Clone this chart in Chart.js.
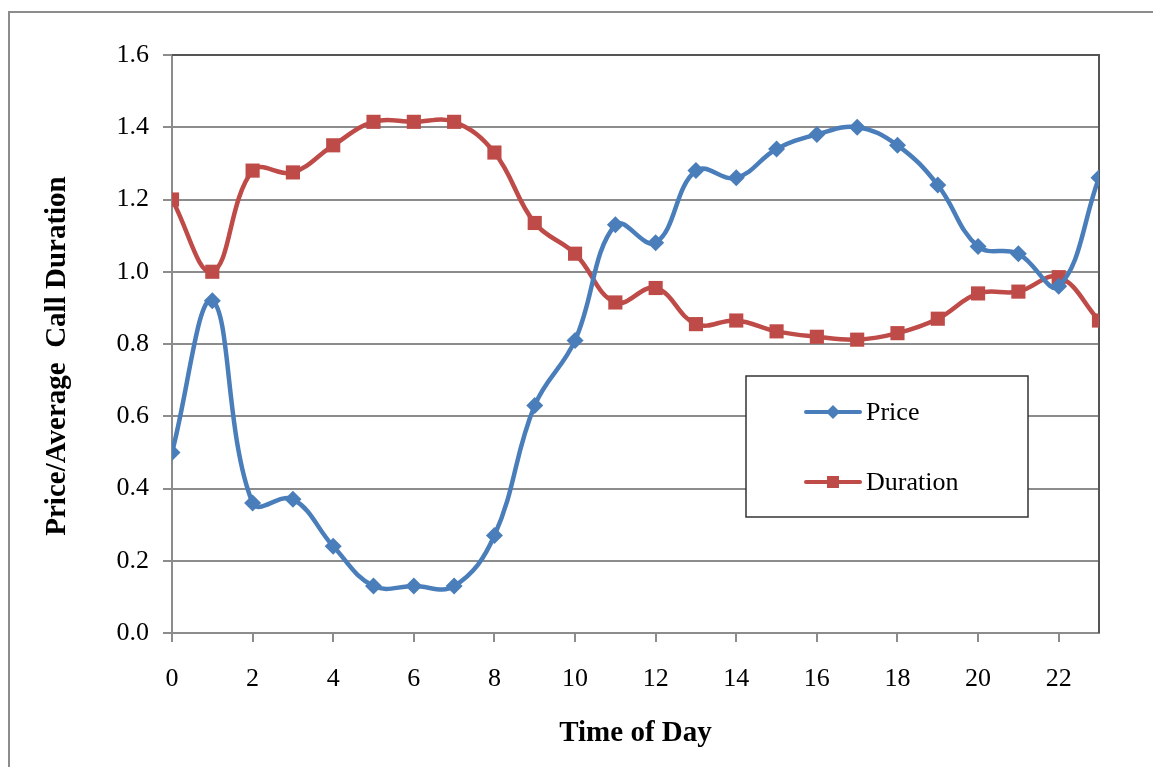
<!DOCTYPE html>
<html>
<head>
<meta charset="utf-8">
<script src="https://cdn.jsdelivr.net/npm/chart.js@4/dist/chart.umd.min.js"></script>
<style>
  html, body { margin: 0; padding: 0; background: #fff; }
  #wrap { width: 1153px; height: 767px; position: relative; }
</style>
</head>
<body>
<div id="wrap"><canvas id="grafico"></canvas></div>
<script>
// hora del dia
const horas = [0, 1, 2, 3, 4, 5, 6, 7, 8, 9, 10, 11, 12, 13, 14, 15, 16, 17, 18, 19, 20, 21, 22, 23];
const precio = [0.50, 0.92, 0.36, 0.37, 0.24, 0.13, 0.13, 0.13, 0.27, 0.63, 0.81, 1.13, 1.08, 1.28, 1.26, 1.34, 1.38, 1.40, 1.35, 1.24, 1.07, 1.05, 0.96, 1.26];
const duracion = [1.20, 1.00, 1.28, 1.275, 1.35, 1.415, 1.415, 1.415, 1.33, 1.135, 1.05, 0.915, 0.955, 0.855, 0.865, 0.835, 0.82, 0.812, 0.83, 0.87, 0.94, 0.945, 0.985, 0.865];
const etiquetas = ["Price", "Duration"];
const ticksX = [0, 2, 4, 6, 8, 10, 12, 14, 16, 18, 20, 22];
const tituloY = "Price/Average  Call Duration";

const AZUL = "#4A7EBB";
const ROJO = "#BE4B48";
const fuente = "'Liberation Serif', 'Times New Roman', serif";

function puntos(valores) {
    return horas.map((h, i) => ({ x: h, y: valores[i] }));
}

// marco exterior, bordes del area y titulo del eje y
const marco = {
    id: "marco",
    beforeDraw(chart) {
        const c = chart.ctx;
        c.save();
        c.strokeStyle = "#8c8c8c";
        c.lineWidth = 2;
        c.beginPath();
        c.moveTo(chart.width, 12);
        c.lineTo(9, 12);
        c.lineTo(9, chart.height);
        c.stroke();
        c.restore();
    },
    beforeDatasetsDraw(chart) {
        const a = chart.chartArea;
        const c = chart.ctx;
        c.save();
        c.strokeStyle = "#555";
        c.lineWidth = 2;
        c.beginPath();
        c.moveTo(a.left, a.top);
        c.lineTo(a.right, a.top);
        c.lineTo(a.right, a.bottom);
        c.stroke();
        // titulo vertical
        c.translate(58, a.top + (a.bottom - a.top) / 2 + 12);
        c.rotate(-Math.PI / 2);
        c.fillStyle = "#000";
        c.font = "bold 29px " + fuente;
        c.textAlign = "center";
        c.textBaseline = "middle";
        c.fillText(tituloY, 0, 0);
        c.restore();
    }
};

// leyenda dentro del grafico
const leyenda = {
    id: "leyenda",
    afterDraw(chart, args, opts) {
        const c = chart.ctx;
        c.save();
        c.fillStyle = "#fff";
        c.fillRect(opts.x, opts.y, opts.w, opts.h);
        c.strokeStyle = "#333";
        c.lineWidth = 1.5;
        c.strokeRect(opts.x, opts.y, opts.w, opts.h);
        chart.data.datasets.forEach((ds, i) => {
            const y = opts.y + 36 + i * 70;
            const x0 = opts.x + 60;
            c.strokeStyle = ds.borderColor;
            c.lineWidth = 4;
            c.lineCap = "round";
            c.beginPath();
            c.moveTo(x0, y);
            c.lineTo(x0 + 54, y);
            c.stroke();
            c.fillStyle = ds.backgroundColor;
            Chart.helpers.drawPoint(c, {
                pointStyle: ds.pointStyle,
                radius: ds.pointStyle === "rect" ? 8.5 : 7,
                borderWidth: 0
            }, x0 + 27, y);
            c.fillStyle = "#000";
            c.font = "26px " + fuente;
            c.textBaseline = "middle";
            c.fillText(ds.label, x0 + 60, y + 1);
        });
        c.restore();
    }
};

new Chart(document.getElementById("grafico"), {
    type: "line",
    data: {
        datasets: [
            {
                label: etiquetas[0],
                data: puntos(precio),
                borderColor: AZUL,
                backgroundColor: AZUL,
                borderWidth: 4.5,
                pointStyle: "rectRot",
                pointRadius: 8.5,
                pointBorderWidth: 0,
                tension: 0.4
            },
            {
                label: etiquetas[1],
                data: puntos(duracion),
                borderColor: ROJO,
                backgroundColor: ROJO,
                borderWidth: 4.5,
                pointStyle: "rect",
                pointRadius: 10,
                pointBorderWidth: 0,
                tension: 0.4
            }
        ]
    },
    options: {
        responsive: true,
        maintainAspectRatio: false,
        animation: false,
        layout: { padding: { left: 0, top: 55, right: 54, bottom: 0 } },
        plugins: {
            legend: { display: false },
            tooltip: { enabled: false },
            leyenda: { x: 746, y: 376, w: 282, h: 141 }
        },
        scales: {
            x: {
                type: "linear",
                min: 0,
                max: 23,
                afterFit: s => { s.height = 134; },
                afterBuildTicks: s => { s.ticks = ticksX.map(v => ({ value: v })); },
                grid: { drawOnChartArea: false, drawTicks: true, tickLength: 9, color: "#8c8c8c", lineWidth: 2 },
                border: { color: "#8c8c8c", width: 2 },
                ticks: {
                    padding: 22,
                    autoSkip: false,
                    color: "#000",
                    font: { family: fuente, size: 26 },
                    maxRotation: 0
                },
                title: {
                    display: true,
                    text: "Time of Day",
                    color: "#000",
                    font: { family: fuente, size: 29, weight: "bold" },
                    padding: { top: 0, bottom: 16 }
                }
            },
            y: {
                min: 0,
                max: 1.6,
                afterFit: s => { s.width = 172; },
                grid: { color: "#8c8c8c", lineWidth: 2, tickLength: 9 },
                border: { color: "#8c8c8c", width: 2 },
                ticks: {
                    stepSize: 0.2,
                    padding: 14,
                    color: "#000",
                    font: { family: fuente, size: 26 },
                    callback: v => v.toFixed(1)
                }
            }
        }
    },
    plugins: [marco, leyenda]
});
</script>
</body>
</html>
